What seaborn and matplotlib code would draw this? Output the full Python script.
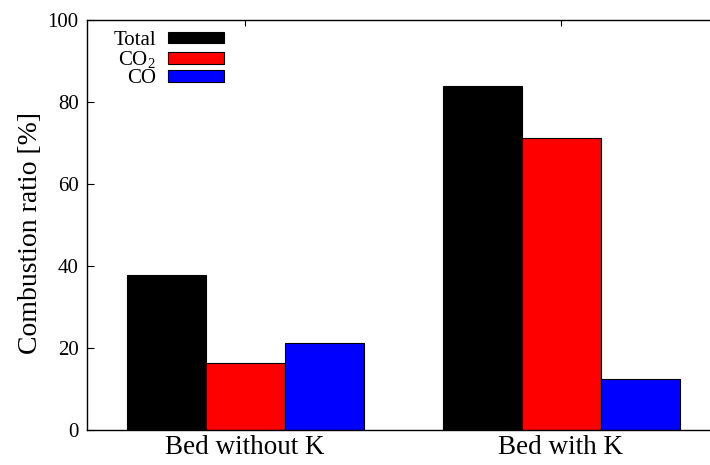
import pandas as pd
import numpy as np
import seaborn as sns
import matplotlib.pyplot as plt

# values
beds = ['Bed without K', 'Bed with K']
species = ['Total', 'CO$_2$', 'CO']
total = [37.8, 83.9]
co2 = [16.3, 71.2]
co = [21.2, 12.4]
colors = ['#000000', '#ff0000', '#0000ff']

df = pd.DataFrame({
    'bed': beds * 3,
    'species': [species[0]] * 2 + [species[1]] * 2 + [species[2]] * 2,
    'ratio': total + co2 + co,
})

sns.set_theme(style='ticks')
plt.rcParams['font.family'] = ['Liberation Serif', 'DejaVu Serif']
plt.rcParams['mathtext.fontset'] = 'custom'
plt.rcParams['mathtext.rm'] = 'Liberation Serif'
plt.rcParams['mathtext.it'] = 'Liberation Serif:italic'
for k in ['text.color', 'axes.labelcolor', 'xtick.color', 'ytick.color']:
    plt.rcParams[k] = 'black'

fig = plt.figure(figsize=(7.1, 4.65), dpi=100)
ax = fig.add_axes([87 / 710, 35 / 465, 632 / 710, 410 / 465])

sns.barplot(data=df, x='bed', y='ratio', hue='species', order=beds,
            hue_order=species, palette=colors, width=0.75, gap=0,
            edgecolor='black', linewidth=0.8, saturation=1, ax=ax)

ax.set_xlim(-0.5, 1.5)
ax.set_ylim(0, 100)
ax.set_yticks([0, 20, 40, 60, 80, 100])
ax.set_xlabel('')
ax.set_ylabel('Combustion ratio [%]', fontsize=20)
ax.yaxis.set_label_coords(-0.07, 0.48)
ax.tick_params(axis='y', direction='in', length=5, width=0.8, labelsize=15,
               pad=6, right=True)
ax.tick_params(axis='x', direction='in', length=4, width=0.8, labelsize=19.5,
               pad=3.5, top=True)
for s in ax.spines.values():
    s.set_linewidth(1.0)
    s.set_color('black')

ax.legend(loc='upper right', bbox_to_anchor=(0.217, 0.973), frameon=False,
          fontsize=15, markerfirst=False, handlelength=2.7, handleheight=0.48,
          handletextpad=0.58, labelspacing=-0.04, borderpad=0, borderaxespad=0)

fig.savefig('out.png', dpi=100)
